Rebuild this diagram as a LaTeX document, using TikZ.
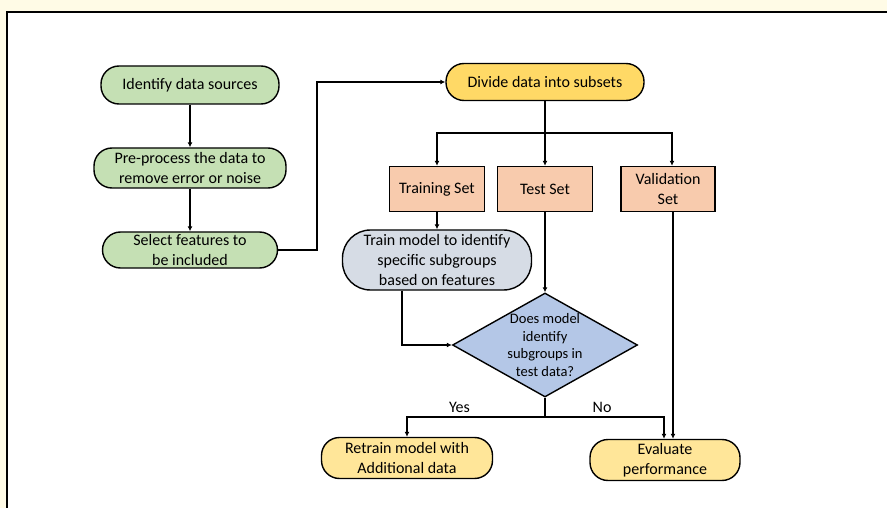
\documentclass[tikz,border=0pt]{standalone}
\usepackage{fontspec}
\setmainfont{Carlito}
\usetikzlibrary{shapes.geometric,arrows.meta}

\definecolor{cream}{HTML}{FFFBE6}
\definecolor{stepgreen}{HTML}{C5E0B4}
\definecolor{divyellow}{HTML}{FFD966}
\definecolor{endyellow}{HTML}{FFE699}
\definecolor{setorange}{HTML}{F8CBAD}
\definecolor{modelgray}{HTML}{D6DCE5}
\definecolor{askblue}{HTML}{B4C7E7}

\tikzset{
  term/.style={rectangle, rounded corners=18pt, draw, line width=1.4pt, align=center,
    inner sep=1pt, font=\fontsize{16}{20}\selectfont},
  setbox/.style={rectangle, draw, line width=1.4pt, fill=setorange, align=center,
    inner sep=1pt, font=\fontsize{16}{20}\selectfont},
  link/.style={line width=1.5pt, -{Latex[length=5pt,width=5pt]}}
}

\begin{document}
\begin{tikzpicture}[x=1pt, y=-1pt]
  \useasboundingbox (0,0) rectangle (887,508);
  \fill[cream] (0,0) rectangle (887,508);
  \draw[line width=2pt, fill=white] (7,12) rectangle (900,520);

  % left column
  \node[term, fill=stepgreen, minimum width=178, minimum height=38] (ident) at (190,85) {Identify data sources};
  \node[term, fill=stepgreen, minimum width=192, minimum height=40] (prep) at (190,168) {Pre-process the data to\\remove error or noise};
  \node[term, fill=stepgreen, minimum width=175, minimum height=36] (select) at (190,250) {Select features to\\be included};

  % subsets
  \node[term, fill=divyellow, minimum width=198, minimum height=37] (divide) at (545,82) {Divide data into subsets};
  \node[setbox, minimum width=95, minimum height=45] (train) at (437,189) {Training Set};
  \node[setbox, minimum width=95, minimum height=45] (test) at (545,189) {Test Set};
  \node[setbox, minimum width=94, minimum height=45] (valid) at (668,189) {Validation\\Set};

  \node[term, rounded corners=28pt, fill=modelgray, minimum width=189, minimum height=60] (model) at (437,260) {Train model to identify\\specific subgroups\\based on features};
  \node[diamond, draw, line width=1.4pt, fill=askblue, minimum width=185, minimum height=104, inner sep=0pt] (dia) at (545,345) {};
  \node[align=center, font=\fontsize{14.5}{17.7}\selectfont] (ask) at (dia.center) {Does model\\identify\\subgroups in\\test data?};

  \node[term, fill=endyellow, minimum width=171, minimum height=41] (retrain) at (407,458) {Retrain model with\\Additional data};
  \node[term, fill=endyellow, minimum width=150, minimum height=41] (eval) at (665,460) {Evaluate\\performance};

  \coordinate (split) at (545,133);
  \coordinate (split2) at (545,417);

  \draw[link] (ident) -- (prep);
  \draw[link] (prep) -- (select);
  \draw[link] (select.east) -- ++(39,0) |- (divide.west);
  \draw[line width=1.5pt] (divide) -- (split);
  \draw[link] (split) -| (train.north);
  \draw[link] (split) -- (test);
  \draw[link] (split) -| ([xshift=4]valid.north);
  \draw[link] (train) -- (model);
  \draw[link] (test) -- (dia.north);
  \draw[link] ([xshift=-35]model.south) |- (dia.west);
  \draw[line width=1.5pt] (dia.south) -- (split2);
  \draw[link] (split2) -| node[pos=0.31, above, font=\fontsize{16}{20}\selectfont] {Yes} (retrain.north);
  \draw[link] (split2) -| node[pos=0.24, above, font=\fontsize{16}{20}\selectfont] {No} ([xshift=-1]eval.north);
  \draw[link] ([xshift=5]valid.south) -- ([xshift=5]valid.south |- eval.north);
\end{tikzpicture}
\end{document}
